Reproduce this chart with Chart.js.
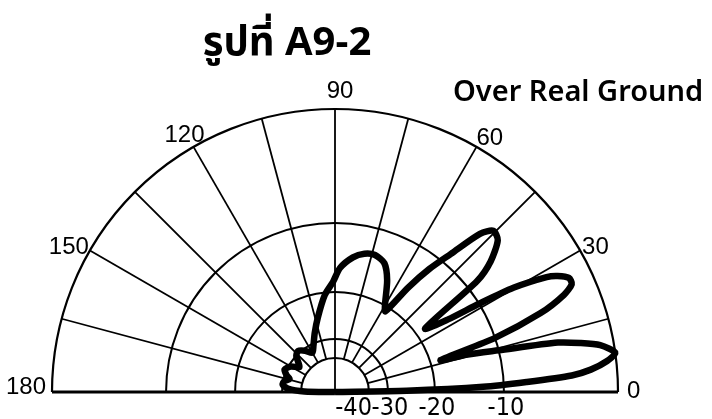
<!DOCTYPE html>
<html>
<head>
<meta charset="utf-8">
<script src="https://cdn.jsdelivr.net/npm/chart.js@4.4.1/dist/chart.umd.min.js"></script>
<style>
  html, body { margin: 0; padding: 0; background: #fff; }
  #wrap { position: relative; width: 712px; height: 419px; }
</style>
</head>
<body>
<div id="wrap"><canvas id="polar" width="712" height="419"></canvas></div>
<script>
// elevation angle (deg) and relative gain (dB)
const angles = [0, 1, 2, 3, 4, 5, 6.5, 8, 10, 11.3, 12.5, 14.3, 15.8, 16.8,
  18.7, 21, 23, 24.5, 26, 27.5, 28.5, 30.3, 31.5, 32.7, 35.2,
  38, 40, 43, 45.5, 47.5, 50, 52.5, 55, 58,
  60, 65, 69, 73.7, 78, 82.4, 87.7, 91, 96, 103, 109, 115,
  120, 126, 132, 137, 141, 145, 150, 156, 161, 164, 168, 172, 176, 179, 180];
const gainDb = [-60, -26, -13, -8, -4, -2.3, -0.8, 0, -1.2, -2.9, -4.8, -10, -14.5, -18.5,
  -10, -5.5, -3, -2, -2, -2.8, -3.7, -6.7, -10, -15, -18.5,
  -9, -7, -5.3, -5, -6, -9, -12, -16, -21,
  -20, -16.6, -14.5, -13.8, -14, -14.8, -16.5, -18.5, -20.5, -25, -28, -31,
  -34, -31, -29.5, -30, -33, -35, -31, -29.5, -31, -33, -30.5, -30, -33, -42, -60];

const angleTicks = [0, 30, 60, 90, 120, 150, 180];
const spokeAngles = [0, 15, 30, 45, 60, 75, 90, 105, 120, 135, 150, 165, 180];
const dbTicks = [0, -10, -20, -30, -40];
const dbLabels = ['-10', '-20', '-30', '-40'];
const titleText = 'รูปที่ A9-2';
const noteText = 'Over Real Ground';

// radial scale of the chart paper: dB -> fraction of the outer radius
const scaleDb = [0, -10, -20, -30, -40, -60];
const scaleR = [1, 0.597, 0.353, 0.187, 0.12, 0];

function dbToR(db) {
  if (db >= 0) return 1;
  for (let i = 1; i < scaleDb.length; i++) {
    if (db >= scaleDb[i]) {
      const t = (scaleDb[i - 1] - db) / (scaleDb[i - 1] - scaleDb[i]);
      return scaleR[i - 1] + t * (scaleR[i] - scaleR[i - 1]);
    }
  }
  return 0;
}

const points = angles.map((a, i) => {
  const r = dbToR(gainDb[i]);
  const rad = a * Math.PI / 180;
  return { x: r * Math.cos(rad), y: r * Math.sin(rad) };
});

const paper = {
  id: 'paper',
  beforeDatasetsDraw(chart) {
    const { ctx, scales: { x, y } } = chart;
    const cx = x.getPixelForValue(0), cy = y.getPixelForValue(0);
    const R = x.getPixelForValue(1) - cx;
    ctx.save();
    ctx.strokeStyle = '#000';
    // rings
    dbTicks.forEach(db => {
      ctx.lineWidth = db === 0 ? 2.2 : 2;
      ctx.beginPath();
      ctx.arc(cx, cy, R * dbToR(db), Math.PI, 2 * Math.PI);
      ctx.stroke();
    });
    // spokes
    const r0 = R * dbToR(-40);
    ctx.lineWidth = 1.8;
    spokeAngles.forEach(a => {
      const rad = a * Math.PI / 180;
      const start = (a === 90) ? 0 : r0;
      ctx.beginPath();
      ctx.moveTo(cx + start * Math.cos(rad), cy - start * Math.sin(rad));
      ctx.lineTo(cx + R * Math.cos(rad), cy - R * Math.sin(rad));
      ctx.stroke();
    });
    // ground line
    ctx.lineWidth = 3;
    ctx.beginPath();
    ctx.moveTo(cx - R, cy);
    ctx.lineTo(cx + R, cy);
    ctx.stroke();
    ctx.restore();
  },
  afterDraw(chart) {
    const { ctx, scales: { x, y } } = chart;
    const cx = x.getPixelForValue(0), cy = y.getPixelForValue(0);
    const R = x.getPixelForValue(1) - cx;
    ctx.save();
    ctx.fillStyle = '#000';
    // angle labels: [align, dx, dy] from the spoke end
    const place = {
      0: ['left', 9, 6], 30: ['left', 2, 3], 60: ['left', 0, -2], 90: ['center', 5, -11],
      120: ['right', 11, -5], 150: ['right', -1, 3], 180: ['right', -6, 2]
    };
    ctx.font = '24px "Liberation Sans", Arial, sans-serif';
    ctx.textBaseline = 'alphabetic';
    angleTicks.forEach(a => {
      const rad = a * Math.PI / 180;
      const ex = cx + R * Math.cos(rad), ey = cy - R * Math.sin(rad);
      const p = place[a];
      ctx.textAlign = p[0];
      ctx.fillText(String(a), ex + p[1], ey + p[2]);
    });
    // dB labels under the ground line
    ctx.font = '25px "Liberation Sans Narrow", "DejaVu Sans Condensed", sans-serif';
    dbLabels.forEach(lab => {
      const px = cx + R * dbToR(Number(lab));
      if (lab === '-40') { ctx.textAlign = 'right'; ctx.fillText(lab, px + 3, cy + 23); }
      else { ctx.textAlign = 'center'; ctx.fillText(lab, px + 2, cy + 23); }
    });
    // title and note
    ctx.textAlign = 'center';
    ctx.font = 'bold 40px "Noto Sans Thai", "Noto Sans", sans-serif';
    ctx.fillText(titleText, 287, 55);
    ctx.textAlign = 'left';
    ctx.font = '600 29px "Noto Sans", "Open Sans", sans-serif';
    ctx.fillText(noteText, 453, 101);
    ctx.restore();
  }
};

new Chart(document.getElementById('polar'), {
  type: 'scatter',
  data: {
    datasets: [{
      data: points,
      showLine: true,
      borderColor: '#000',
      borderWidth: 6.5,
      pointRadius: 0,
      tension: 0.25,
      clip: false
    }]
  },
  options: {
    responsive: false,
    devicePixelRatio: 1,
    animation: false,
    layout: { padding: { left: 52, right: 94, top: 109, bottom: 27 } },
    scales: {
      x: { type: 'linear', min: -1, max: 1, display: false },
      y: { type: 'linear', min: 0, max: 1, display: false }
    },
    plugins: { legend: { display: false }, tooltip: { enabled: false } }
  },
  plugins: [paper]
});
</script>
</body>
</html>
